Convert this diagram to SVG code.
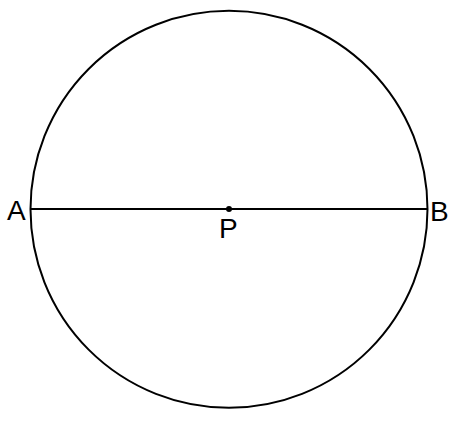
<svg xmlns="http://www.w3.org/2000/svg" width="464" height="422" viewBox="0 0 464 422">
<style>
.s{fill:none;stroke:#000;stroke-width:2}
.t{font-family:"Liberation Sans",Arial,sans-serif;font-size:28px;fill:#000}
</style>
<rect width="464" height="422" fill="#fff"/>
<g id="circle"><circle class="s" cx="229" cy="209.3" r="198.5"/></g>
<g id="connectors"><line class="s" x1="30.5" y1="209" x2="427.5" y2="209"/></g>
<g id="A"><text class="t" x="7" y="220">A</text></g>
<g id="B"><text class="t" x="430" y="220.5">B</text></g>
<g id="P"><circle cx="229" cy="209" r="3" fill="#000"/><text class="t" x="219" y="237.5">P</text></g>
</svg>
